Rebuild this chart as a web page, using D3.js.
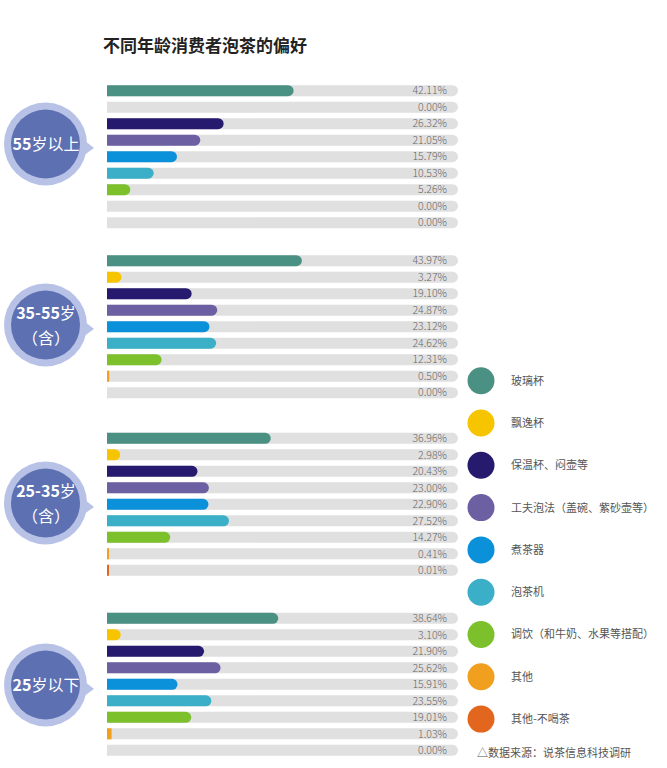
<!DOCTYPE html>
<html>
<head>
<meta charset="utf-8">
<script src="https://cdn.jsdelivr.net/npm/d3@7"></script>
<style>
  body { margin: 0; background: #fff; }
  svg { font-family: "Noto Sans CJK SC", "Noto Sans", sans-serif; }
</style>
</head>
<body>
<div id="chart"></div>
<script>
// ---- data ----
var categories = ["玻璃杯", "飘逸杯", "保温杯、闷壶等", "工夫泡法（盖碗、紫砂壶等）", "煮茶器",
                  "泡茶机", "调饮（和牛奶、水果等搭配）", "其他", "其他-不喝茶"];
var colors = ["#4a9183", "#f6c500", "#261a6e", "#6c60a2", "#0b91da", "#3aafc7", "#7cc02b", "#f0a01e", "#e2661d"];

var groupNums = ["55", "35-55", "25-35", "25"];
var groupRest = ["岁以上", "岁", "岁", "岁以下"];
var groupSub = ["", "（含）", "（含）", ""];

var valuesOver55 = [42.11, 0.00, 26.32, 21.05, 15.79, 10.53, 5.26, 0.00, 0.00];
var values35to55 = [43.97, 3.27, 19.10, 24.87, 23.12, 24.62, 12.31, 0.50, 0.00];
var values25to35 = [36.96, 2.98, 20.43, 23.00, 22.90, 27.52, 14.27, 0.41, 0.01];
var valuesUnder25 = [38.64, 3.10, 21.90, 25.62, 15.91, 23.55, 19.01, 1.03, 0.00];
var groupValues = [valuesOver55, values35to55, values25to35, valuesUnder25];

// ---- layout ----
var W = 667, H = 768;
var groupTop = [90.7, 260.7, 438.3, 618.3];   // centre of first row in each block
var bubbleY = [144, 325, 503, 685];
var pitch = 16.5;

var svg = d3.select("#chart").append("svg")
    .attr("width", W)
    .attr("height", H);

svg.append("text")
    .attr("x", 103)
    .attr("y", 52)
    .style("font-size", "17px")
    .style("font-weight", "bold")
    .attr("fill", "#222")
    .text("不同年龄消费者泡茶的偏好");

var x = d3.scaleLinear()
    .domain([0, 79.2])
    .range([107, 458]);

var color = d3.scaleOrdinal()
    .domain(categories)
    .range(colors);

// rect with square left end and rounded right end
function roundRight(x0, y0, w, h) {
    var r = h / 2;
    if (w <= r) return "M" + x0 + "," + y0 + "h" + w + "v" + h + "h" + (-w) + "Z";
    return "M" + x0 + "," + y0 +
        "H" + (x0 + w - r) +
        "A" + r + "," + r + " 0 0 1 " + (x0 + w - r) + "," + (y0 + h) +
        "H" + x0 + "Z";
}

groupValues.forEach(function(vals, gi) {
    var y = d3.scaleBand()
        .domain(categories)
        .range([groupTop[gi] - pitch / 2, groupTop[gi] + 8.5 * pitch])
        .paddingInner(0.33)
        .paddingOuter(0.165);

    var g = svg.append("g").attr("class", "group");
    var rows = categories.map(function(c, i) { return {cat: c, value: vals[i]}; });

    // background tracks
    g.selectAll(".track")
        .data(rows)
        .enter()
        .append("path")
        .attr("class", "track")
        .attr("fill", "#e0e0e0")
        .attr("d", function(d) {
            return roundRight(x(0), y(d.cat), x.range()[1] - x(0), y.bandwidth());
        });

    // value bars
    g.selectAll(".bar")
        .data(rows.filter(function(d) { return d.value > 0; }))
        .enter()
        .append("path")
        .attr("class", "bar")
        .attr("fill", function(d) { return color(d.cat); })
        .attr("d", function(d) {
            var w = Math.max(x(d.value) - x(0), 2);
            return roundRight(x(0), y(d.cat), w, y.bandwidth());
        });

    // labels
    g.selectAll(".label")
        .data(rows)
        .enter()
        .append("text")
        .attr("class", "label")
        .attr("x", 447)
        .attr("y", function(d) { return y(d.cat) + y.bandwidth() / 2; })
        .attr("dy", "0.36em")
        .attr("text-anchor", "end")
        .style("font-size", "10.5px")
        .style("font-weight", "300")
        .attr("fill", "#666")
        .text(function(d) { return d.value.toFixed(2) + "%"; });

    // bubble
    var cy = bubbleY[gi];
    var b = svg.append("g").attr("class", "bubble");
    b.append("path")
        .attr("d", "M80," + (cy - 7) + "L94," + (cy + 4) + "L80," + (cy + 14) + "Z")
        .attr("fill", "#b7c2e6");
    b.append("circle")
        .attr("cx", 45.5).attr("cy", cy).attr("r", 41.5)
        .attr("fill", "#b7c2e6");
    b.append("circle")
        .attr("cx", 45.5).attr("cy", cy).attr("r", 34.5)
        .attr("fill", "#5d70b1");

    var twoLine = groupSub[gi] !== "";
    var t = b.append("text")
        .attr("x", 46)
        .attr("y", twoLine ? cy - 12 : cy)
        .attr("dy", "0.36em")
        .attr("text-anchor", "middle")
        .attr("fill", "#fff")
        .style("font-size", "16px");
    t.append("tspan").style("font-weight", "bold").text(groupNums[gi]);
    t.append("tspan").text(groupRest[gi]);
    if (twoLine) {
        b.append("text")
            .attr("x", 46)
            .attr("y", cy + 13)
            .attr("dy", "0.36em")
            .attr("text-anchor", "middle")
            .attr("fill", "#fff")
            .style("font-size", "16px")
            .text(groupSub[gi]);
    }
});

// ---- legend ----
var legend = svg.append("g").attr("class", "legend")
    .selectAll("g")
    .data(categories)
    .enter()
    .append("g")
    .attr("transform", function(d, i) { return "translate(481," + (380.7 + i * 42.3) + ")"; });

legend.append("circle")
    .attr("r", 13.5)
    .attr("fill", function(d) { return color(d); });

legend.append("text")
    .attr("x", 30)
    .attr("dy", "0.36em")
    .style("font-size", "11px")
    .attr("fill", "#555")
    .text(function(d) { return d; });

svg.append("text")
    .attr("x", 477)
    .attr("y", 753)
    .attr("dy", "0.36em")
    .style("font-size", "11px")
    .attr("fill", "#555")
    .text("△数据来源：说茶信息科技调研");
</script>
</body>
</html>
